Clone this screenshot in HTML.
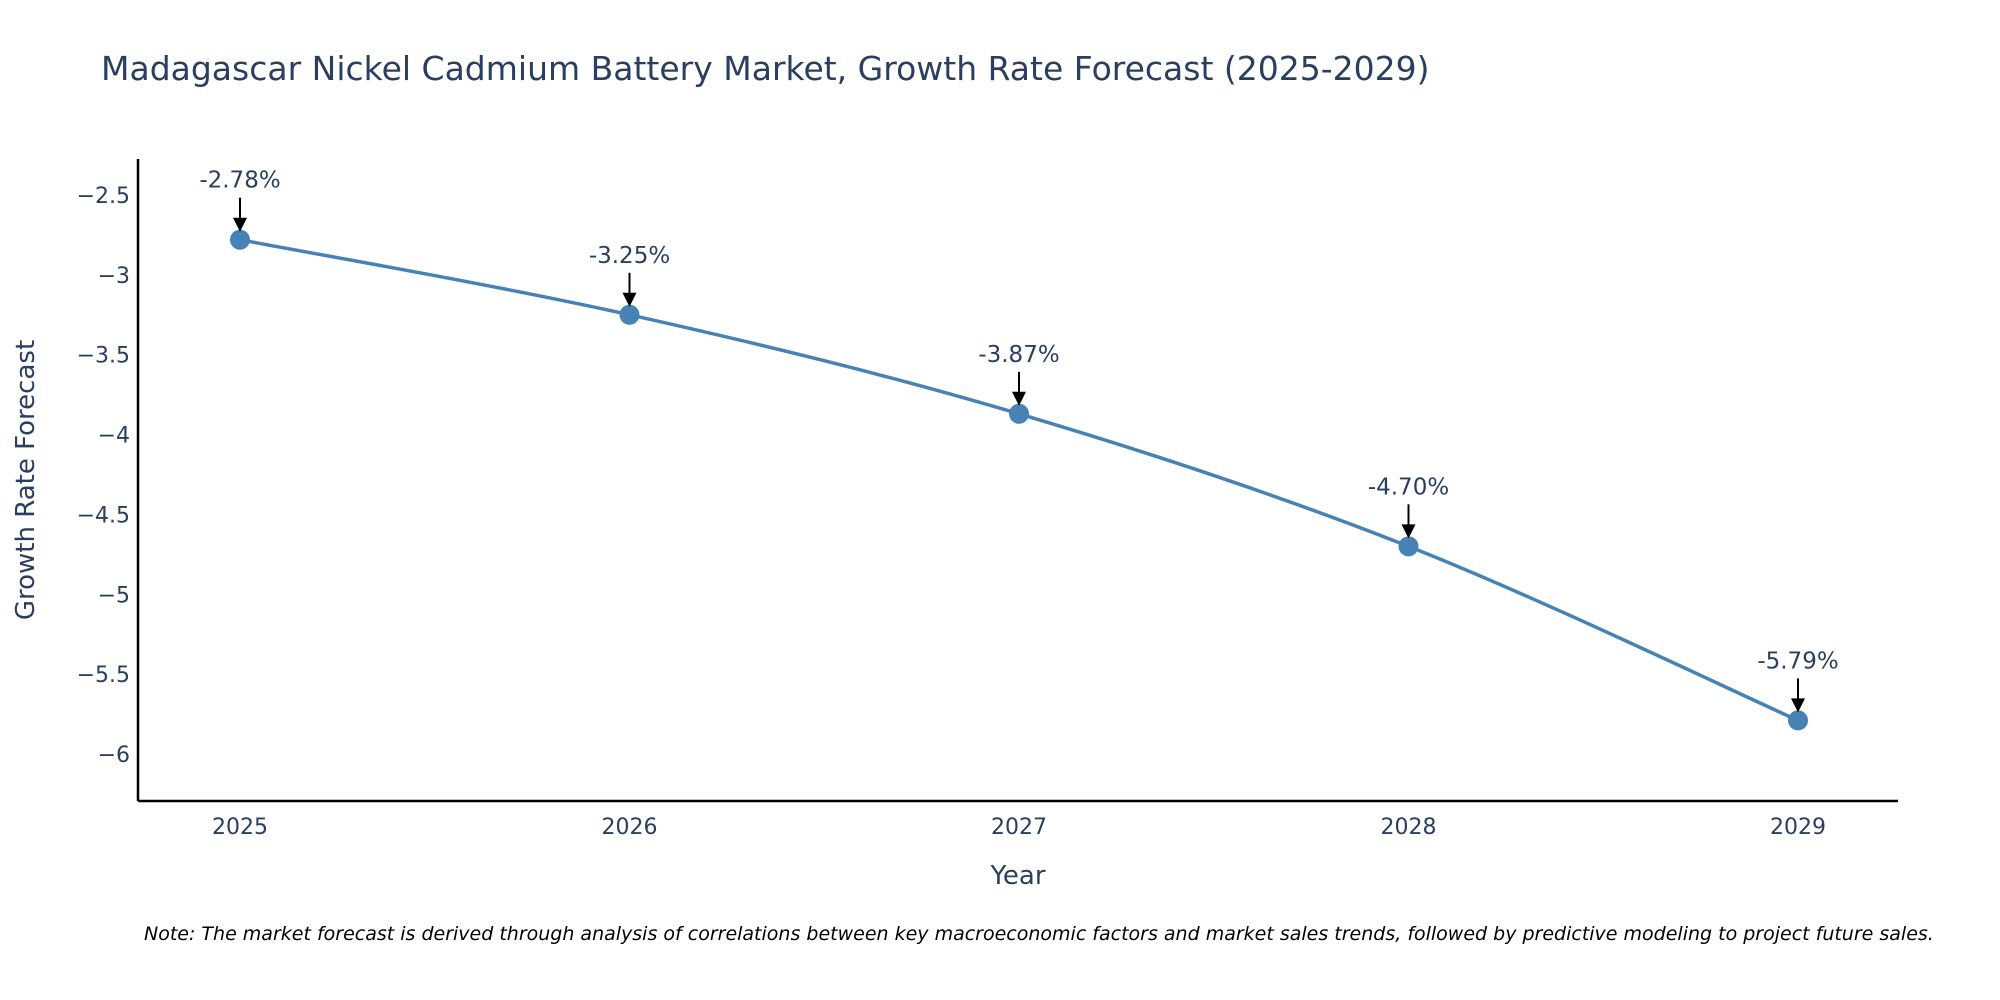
<!DOCTYPE html>
<html><head><meta charset="utf-8"><style>
body{margin:0;background:#fff;overflow:hidden;}
svg{display:block;font-family:"DejaVu Sans",sans-serif;}
</style></head><body>
<svg id="chart" width="2000" height="1000" viewBox="0 0 2000 1000">
<text x="101" y="80" font-size="33" fill="#2a3f5f">Madagascar Nickel Cadmium Battery Market, Growth Rate Forecast (2025-2029)</text>
<g id="yticks"></g>
<g id="xticks"></g>
<line x1="138" y1="159" x2="138" y2="801" stroke="#000" stroke-width="2.5"/>
<line x1="138" y1="801" x2="1898" y2="801" stroke="#000" stroke-width="2.5"/>
<text x="34" y="480" font-size="26" fill="#2a3f5f" text-anchor="middle" transform="rotate(-90 34 480)">Growth Rate Forecast</text>
<text x="1018" y="884" font-size="26" fill="#2a3f5f" text-anchor="middle">Year</text>
<g id="series"></g>
<text x="144" y="940" font-size="19" font-style="italic" fill="#000">Note: The market forecast is derived through analysis of correlations between key macroeconomic factors and market sales trends, followed by predictive modeling to project future sales.</text>
</svg>
<script>
const years=[2025,2026,2027,2028,2029];
const values=[-2.78,-3.25,-3.87,-4.70,-5.79];
const labels=["-2.78%","-3.25%","-3.87%","-4.70%","-5.79%"];
const yTicks=[-2.5,-3,-3.5,-4,-4.5,-5,-5.5,-6];
const yTickLabels=["\u22122.5","\u22123","\u22123.5","\u22124","\u22124.5","\u22125","\u22125.5","\u22126"];
const NS="http://www.w3.org/2000/svg";
const X=v=>240+(v-2025)*389.5;
const Y=v=>195+(-2.5-v)*159.7;
function mk(t,a,p){const e=document.createElementNS(NS,t);for(const k in a)e.setAttribute(k,a[k]);p.appendChild(e);return e;}
const yt=document.getElementById('yticks');
yTicks.forEach((v,i)=>{const t=mk('text',{x:130,y:Y(v)+8,'font-size':22,fill:'#2a3f5f','text-anchor':'end'},yt);t.textContent=yTickLabels[i];

});
const xt=document.getElementById('xticks');
years.forEach(v=>{const t=mk('text',{x:X(v),y:834,'font-size':22,fill:'#2a3f5f','text-anchor':'middle'},xt);t.textContent=v;

});
const g=document.getElementById('series');
const pts=years.map((y,i)=>[X(y),Y(values[i])]);
let d=`M${pts[0][0]},${pts[0][1]}`;
for(let i=0;i<pts.length-1;i++){const p0=pts[i-1]||pts[i],p1=pts[i],p2=pts[i+1],p3=pts[i+2]||p2;const s=1/6;
d+=` C${p1[0]+(p2[0]-p0[0])*s},${p1[1]+(p2[1]-p0[1])*s} ${p2[0]-(p3[0]-p1[0])*s},${p2[1]-(p3[1]-p1[1])*s} ${p2[0]},${p2[1]}`;}
const path=mk('path',{d:d,fill:'none',stroke:'#4682b4','stroke-width':3.5},g);


pts.forEach((p,i)=>{const c=mk('circle',{cx:p[0],cy:p[1],r:10,fill:'#4682b4'},g);


const l=mk('line',{x1:p[0],y1:p[1]-42,x2:p[0],y2:p[1]-20,stroke:'#000','stroke-width':2},g);


const h=mk('path',{d:`M${p[0]-7},${p[1]-22} L${p[0]+7},${p[1]-22} L${p[0]},${p[1]-8} Z`,fill:'#000'},g);


const t=mk('text',{x:p[0],y:p[1]-52,'font-size':23,fill:'#2a3f5f','text-anchor':'middle'},g);t.textContent=labels[i];

});
</script>
</body></html>
